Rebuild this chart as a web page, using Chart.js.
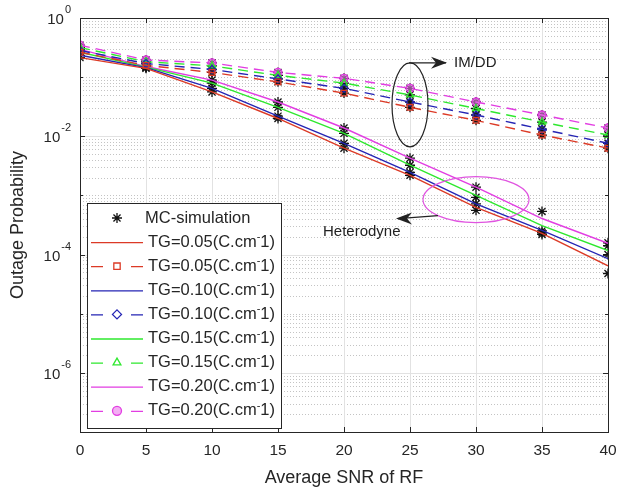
<!DOCTYPE html>
<html>
<head>
<meta charset="utf-8">
<script src="https://cdn.jsdelivr.net/npm/chart.js@4.4.1/dist/chart.umd.min.js"></script>
<style>
  html, body { margin: 0; padding: 0; background: #fff; }
  #wrap { width: 619px; height: 492px; }
</style>
</head>
<body>
<div id="wrap"><canvas id="myChart" width="619" height="492"></canvas></div>
<script>
// Average SNR of RF (dB)
const snr = [0, 5, 10, 15, 20, 25, 30, 35, 40];

// Heterodyne (solid lines)
const het05 = [0.214, 0.141, 0.0562, 0.0200, 0.0063, 0.00219, 0.00063, 0.000229, 0.0000646];
const het10 = [0.234, 0.145, 0.0646, 0.0219, 0.0076, 0.00245, 0.00072, 0.000257, 0.0000851];
const het15 = [0.263, 0.148, 0.0794, 0.0309, 0.0112, 0.00324, 0.00100, 0.000309, 0.000117];
const het20 = [0.295, 0.151, 0.0891, 0.0380, 0.0138, 0.00427, 0.00138, 0.000407, 0.000155];

// IM/DD (dashed lines with markers)
const imdd05 = [0.263, 0.158, 0.120, 0.0832, 0.0537, 0.0309, 0.0186, 0.0105, 0.0063];
const imdd10 = [0.282, 0.170, 0.135, 0.0933, 0.0646, 0.0380, 0.0229, 0.0132, 0.0076];
const imdd15 = [0.316, 0.182, 0.155, 0.107, 0.0794, 0.0500, 0.0295, 0.0174, 0.0105];
const imdd20 = [0.347, 0.195, 0.174, 0.120, 0.0955, 0.0646, 0.0380, 0.0229, 0.0138];

// MC-simulation points on the heterodyne curves
const mcHet05 = [0.214, 0.141, 0.0562, 0.0200, 0.0063, 0.00219, 0.00056, 0.000219, 0.0000479];
const mcHet10 = [0.234, 0.145, 0.0646, 0.0219, 0.0076, 0.00245, 0.00072, 0.000234, 0.000100];
const mcHet15 = [0.263, 0.148, 0.0794, 0.0309, 0.0112, 0.00324, 0.00093, 0.000251, 0.000141];
const mcHet20 = [0.295, 0.151, 0.0891, 0.0380, 0.0138, 0.00427, 0.00138, 0.000537, 0.000158];

const yTickExp = [0, -2, -4, -6];
const xTicks = [0, 5, 10, 15, 20, 25, 30, 35, 40];

const legendLabels = ["MC-simulation", "TG=0.05", "TG=0.05", "TG=0.10", "TG=0.10", "TG=0.15", "TG=0.15", "TG=0.20", "TG=0.20"];

const cRed = "#dc3a26";
const cBlue = "#2424b4";
const cGreen = "#2ee82e";
const cMag = "#e23de2";
const FONT = "'Liberation Sans', Arial, Helvetica, sans-serif";

function pts(ys) {
  return snr.map((x, i) => ({ x: x, y: ys[i] }));
}

const mcPoints = [].concat(pts(mcHet05), pts(mcHet10), pts(mcHet15), pts(mcHet20),
  pts(imdd05), pts(imdd10), pts(imdd15), pts(imdd20));

function solid(label, ys, color) {
  return { label: label, data: pts(ys), borderColor: color, borderWidth: 1.4, pointRadius: 0, fill: false, tension: 0 };
}
function dashed(label, ys, color, style, bg) {
  return {
    label: label, data: pts(ys), borderColor: color, borderWidth: 1.4, borderDash: [10, 6],
    pointStyle: style, pointRadius: 4, pointBorderColor: color, pointBackgroundColor: bg,
    pointBorderWidth: 1.3, fill: false, tension: 0
  };
}

const datasets = [
  { label: "MC-simulation", type: "scatter", data: mcPoints, showLine: false, pointStyle: "star",
    pointRadius: 5, borderColor: "#111", pointBorderWidth: 1.3, order: 10 },
  solid("het05", het05, cRed),
  dashed("imdd05", imdd05, cRed, "rect", "rgba(0,0,0,0)"),
  solid("het10", het10, cBlue),
  dashed("imdd10", imdd10, cBlue, "rectRot", "rgba(0,0,0,0)"),
  solid("het15", het15, cGreen),
  dashed("imdd15", imdd15, cGreen, "triangle", "rgba(0,0,0,0)"),
  solid("het20", het20, cMag),
  dashed("imdd20", imdd20, cMag, "circle", "rgba(235,120,235,0.6)")
];

function arrowHead(ctx, x, y, dir) {
  // dir: 1 pointing right, -1 pointing left
  ctx.beginPath();
  ctx.moveTo(x, y);
  ctx.lineTo(x - dir * 16, y - 6);
  ctx.lineTo(x - dir * 11, y);
  ctx.lineTo(x - dir * 16, y + 6);
  ctx.closePath();
  ctx.fill();
}

const matlabLook = {
  id: "matlabLook",
  beforeDatasetsDraw(chart) {
    const ctx = chart.ctx, a = chart.chartArea;
    const xs = chart.scales.x, ys = chart.scales.y;
    ctx.save();
    ctx.lineWidth = 1;
    // minor dotted grid
    ctx.strokeStyle = "#c4c4c4";
    ctx.setLineDash([1, 2]);
    for (let e = -7; e < 0; e++) {
      for (let m = 2; m <= 9; m++) {
        const py = Math.round(ys.getPixelForValue(m * Math.pow(10, e))) + 0.5;
        ctx.beginPath(); ctx.moveTo(a.left, py); ctx.lineTo(a.right, py); ctx.stroke();
      }
      if (e % 2 !== 0) {
        const py = Math.round(ys.getPixelForValue(Math.pow(10, e))) + 0.5;
        ctx.beginPath(); ctx.moveTo(a.left, py); ctx.lineTo(a.right, py); ctx.stroke();
      }
    }
    // major solid grid
    ctx.setLineDash([]);
    ctx.strokeStyle = "#e2e2e2";
    yTickExp.forEach(e => {
      const py = Math.round(ys.getPixelForValue(Math.pow(10, e))) + 0.5;
      ctx.beginPath(); ctx.moveTo(a.left, py); ctx.lineTo(a.right, py); ctx.stroke();
    });
    xTicks.forEach(v => {
      const px = Math.round(xs.getPixelForValue(v)) + 0.5;
      ctx.beginPath(); ctx.moveTo(px, a.top); ctx.lineTo(px, a.bottom); ctx.stroke();
    });
    ctx.restore();
  },
  afterDatasetsDraw(chart) {
    const ctx = chart.ctx, a = chart.chartArea;
    const xs = chart.scales.x, ys = chart.scales.y;
    ctx.save();
    // axes box
    ctx.strokeStyle = "#262626";
    ctx.lineWidth = 1;
    ctx.strokeRect(Math.round(a.left) + 0.5, Math.round(a.top) + 0.5, Math.round(a.right - a.left), Math.round(a.bottom - a.top));
    // tick marks inside
    xTicks.forEach(v => {
      const px = Math.round(xs.getPixelForValue(v)) + 0.5;
      ctx.beginPath(); ctx.moveTo(px, a.bottom); ctx.lineTo(px, a.bottom - 5);
      ctx.moveTo(px, a.top); ctx.lineTo(px, a.top + 5); ctx.stroke();
    });
    for (let e = -7; e <= 0; e++) {
      const py = Math.round(ys.getPixelForValue(Math.pow(10, e))) + 0.5;
      const len = (e % 2 === 0) ? 5 : 3;
      ctx.beginPath(); ctx.moveTo(a.left, py); ctx.lineTo(a.left + len, py);
      ctx.moveTo(a.right, py); ctx.lineTo(a.right - len, py); ctx.stroke();
    }
    // y tick labels 10^n
    ctx.fillStyle = "#262626";
    ctx.textBaseline = "middle";
    yTickExp.forEach(e => {
      const py = ys.getPixelForValue(Math.pow(10, e));
      ctx.font = "11px " + FONT;
      const sup = e === 0 ? "0" : "-" + (-e);
      const wSup = ctx.measureText(sup).width;
      ctx.textAlign = "left";
      ctx.fillText(sup, a.left - 9 - wSup, py - 8);
      ctx.font = "15px " + FONT;
      ctx.textAlign = "right";
      ctx.fillText("10", a.left - 10 - wSup, py + 2);
    });

    // IM/DD annotation
    const c1x = xs.getPixelForValue(25), c1y = ys.getPixelForValue(0.034);
    ctx.strokeStyle = "#222";
    ctx.lineWidth = 1.2;
    ctx.beginPath(); ctx.ellipse(c1x, c1y, 18, 42, 0, 0, Math.PI * 2); ctx.stroke();
    ctx.beginPath(); ctx.moveTo(c1x - 1, c1y - 42); ctx.lineTo(c1x + 36, c1y - 42); ctx.stroke();
    ctx.fillStyle = "#222";
    arrowHead(ctx, c1x + 37, c1y - 42, 1);
    ctx.font = "15px " + FONT;
    ctx.textAlign = "left";
    ctx.fillText("IM/DD", c1x + 44, c1y - 42);

    // Heterodyne annotation
    const c2x = xs.getPixelForValue(30), c2y = ys.getPixelForValue(0.00085);
    ctx.strokeStyle = "#e055e0";
    ctx.beginPath(); ctx.ellipse(c2x, c2y, 53, 23, 0, 0, Math.PI * 2); ctx.stroke();
    ctx.strokeStyle = "#222";
    ctx.beginPath(); ctx.moveTo(c2x - 38, c2y + 16); ctx.lineTo(c2x - 78, c2y + 19); ctx.stroke();
    arrowHead(ctx, c2x - 80, c2y + 19, -1);
    ctx.font = "15px " + FONT;
    ctx.textAlign = "left";
    ctx.fillText("Heterodyne", c2x - 153, c2y + 32);

    // legend
    const lx = a.left + 7, ly = a.top + 185, lw = 194, lh = 225;
    ctx.fillStyle = "#fff";
    ctx.fillRect(lx, ly, lw, lh);
    ctx.strokeStyle = "#262626";
    ctx.lineWidth = 1;
    ctx.strokeRect(lx + 0.5, ly + 0.5, lw, lh);
    const ds = chart.data.datasets;
    for (let i = 0; i < legendLabels.length; i++) {
      const ry = ly + 15 + i * 24.1;
      const d = ds[i];
      ctx.save();
      if (i === 0) {
        // asterisk
        ctx.strokeStyle = "#111";
        ctx.lineWidth = 1.3;
        const cx = lx + 30, r = 5;
        ctx.beginPath();
        for (let k = 0; k < 4; k++) {
          const ang = k * Math.PI / 4;
          ctx.moveTo(cx - r * Math.cos(ang), ry - r * Math.sin(ang));
          ctx.lineTo(cx + r * Math.cos(ang), ry + r * Math.sin(ang));
        }
        ctx.stroke();
      } else {
        ctx.strokeStyle = d.borderColor;
        ctx.lineWidth = 1.3;
        if (d.borderDash) {
          ctx.beginPath();
          ctx.moveTo(lx + 4, ry + 0.5); ctx.lineTo(lx + 16, ry + 0.5);
          ctx.moveTo(lx + 44, ry + 0.5); ctx.lineTo(lx + 56, ry + 0.5);
          ctx.stroke();
          ctx.fillStyle = d.pointBackgroundColor;
          Chart.helpers.drawPoint(ctx, {
            pointStyle: d.pointStyle, radius: 4.5, borderWidth: 1.3, rotation: 0
          }, lx + 30, ry);
        } else {
          ctx.beginPath(); ctx.moveTo(lx + 4, ry + 0.5); ctx.lineTo(lx + 56, ry + 0.5); ctx.stroke();
        }
      }
      ctx.restore();
      // text
      ctx.fillStyle = "#262626";
      ctx.textAlign = "left";
      ctx.textBaseline = "middle";
      ctx.font = "16.5px " + FONT;
      if (i === 0) {
        ctx.fillText(legendLabels[i], lx + 58, ry);
      } else {
        const t1 = legendLabels[i] + "(C.cm";
        ctx.fillText(t1, lx + 61, ry);
        let w = ctx.measureText(t1).width;
        ctx.font = "11px " + FONT;
        ctx.fillText("-", lx + 61 + w, ry - 5);
        w += ctx.measureText("-").width;
        ctx.font = "16.5px " + FONT;
        ctx.fillText("1)", lx + 61 + w, ry);
      }
    }
    ctx.restore();
  }
};

const ctx = document.getElementById("myChart").getContext("2d");
new Chart(ctx, {
  type: "line",
  data: { datasets: datasets },
  options: {
    responsive: false,
    animation: false,
    layout: { padding: { top: 18, right: 11, left: 0, bottom: 0 } },
    plugins: { legend: { display: false }, tooltip: { enabled: false } },
    scales: {
      x: {
        type: "linear", min: 0, max: 40,
        ticks: { stepSize: 5, padding: 9, color: "#262626", font: { family: FONT, size: 15.5 } },
        grid: { display: false, drawTicks: false },
        border: { display: false },
        title: { display: true, text: "Average SNR of RF", color: "#262626", font: { family: FONT, size: 18 }, padding: { top: 0, bottom: 3 } },
        afterFit: s => { s.height = 60; s.paddingLeft = 0; s.paddingRight = 0; }
      },
      y: {
        type: "logarithmic", min: 1e-7, max: 1,
        ticks: { display: false },
        grid: { display: false, drawTicks: false },
        border: { display: false },
        title: { display: true, text: "Outage Probability", color: "#262626", font: { family: FONT, size: 18 }, padding: { top: 7, bottom: 0 } },
        afterFit: s => { s.width = 80; }
      }
    }
  },
  plugins: [matlabLook]
});
</script>
</body>
</html>
